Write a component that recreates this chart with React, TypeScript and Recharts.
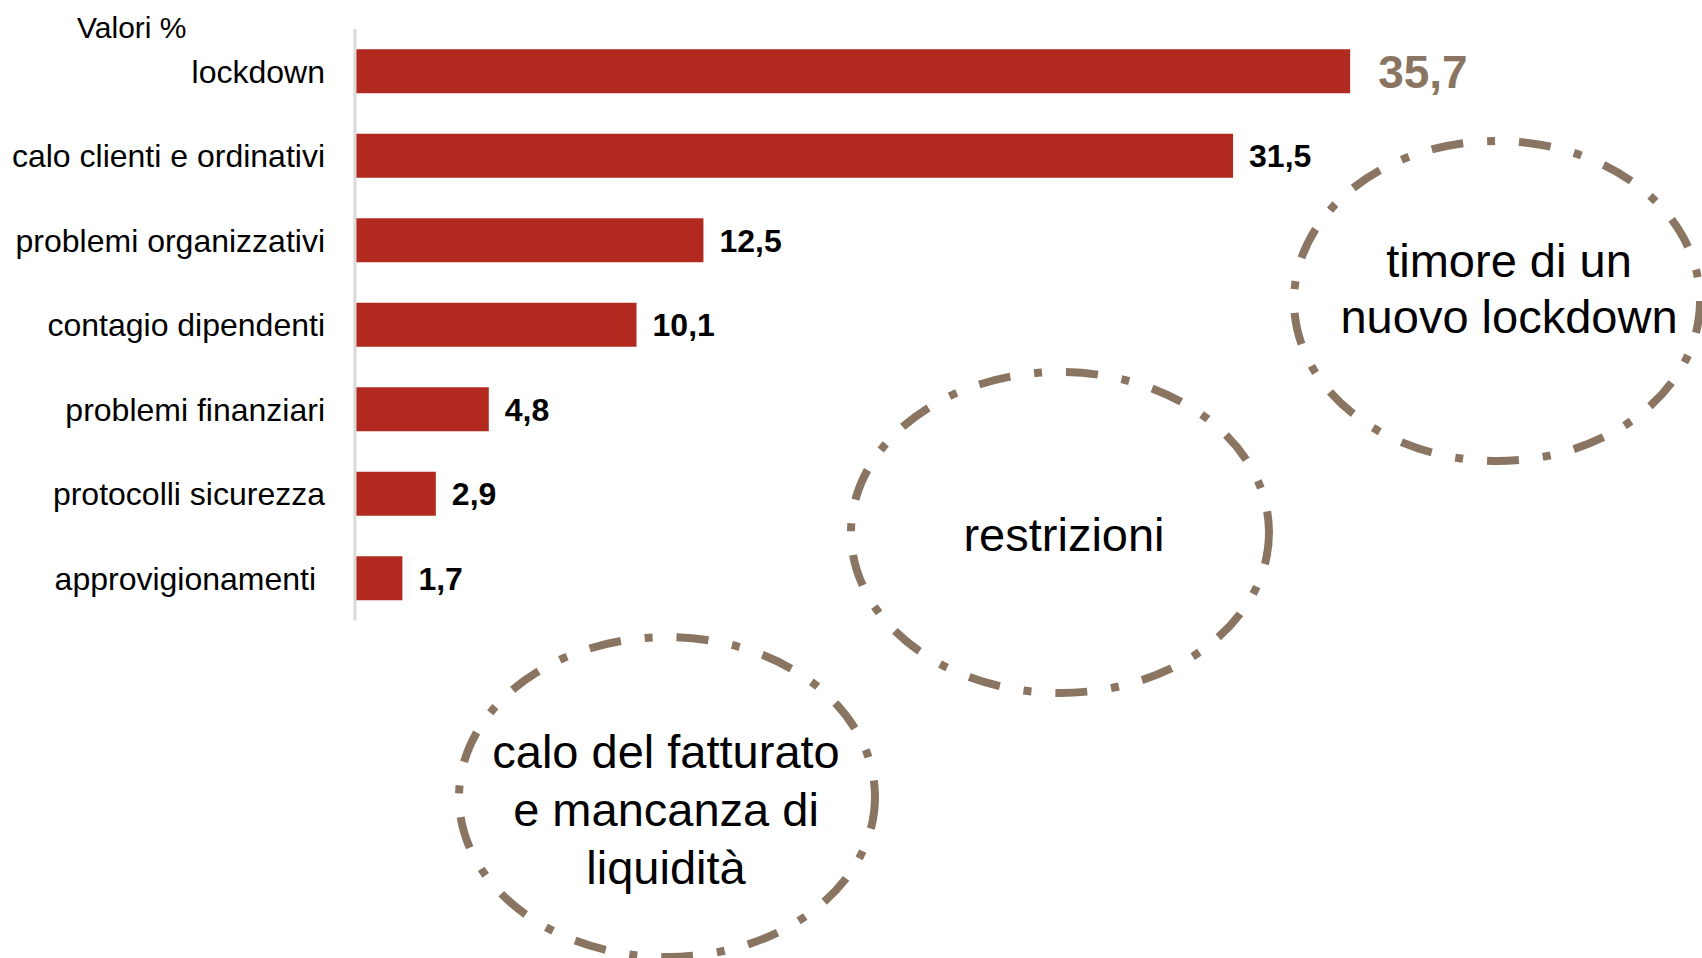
import React from 'react';
import { BarChart, Bar, XAxis, YAxis, LabelList } from 'recharts';

const categories = [
  'lockdown',
  'calo clienti e ordinativi',
  'problemi organizzativi',
  'contagio dipendenti',
  'problemi finanziari',
  'protocolli sicurezza',
  'approvigionamenti ',
];
const values = [35.7, 31.5, 12.5, 10.1, 4.8, 2.9, 1.7];
const unitLabel = 'Valori %';
const bubbleTexts = [
  ['timore di un', 'nuovo lockdown'],
  ['restrizioni'],
  ['calo del fatturato', 'e mancanza di', 'liquidità'],
];

const data = categories.map((c, i) => ({ name: c, value: values[i] }));

const FONT = '"Liberation Sans", Arial, sans-serif';
const BAR = '#B1291F';
const BROWN = '#8A7562';

const fmt = (v: number) => v.toFixed(1).replace('.', ',');

const Tick = (props: any) => {
  const { x, y, payload } = props;
  return (
    <text
      x={x}
      y={y}
      dy="0.355em"
      textAnchor="end"
      fontFamily={FONT}
      fontSize={32}
      fill="#000"
      xmlSpace="preserve"
      style={{ whiteSpace: 'pre' }}
    >
      {payload.value}
    </text>
  );
};

const ValueLabel = (props: any) => {
  const { x, y, width, height, value, index } = props;
  const first = index === 0;
  const off = first ? 28 : 16;
  return (
    <text
      x={Number(x) + Number(width) + off}
      y={Number(y) + Number(height) / 2}
      dy="0.355em"
      textAnchor="start"
      fontFamily={FONT}
      fontWeight="bold"
      fontSize={first ? 46 : 32}
      fill={first ? BROWN : '#000'}
    >
      {fmt(Number(value))}
    </text>
  );
};

const bubbles = [
  { cx: 1497, cy: 301, rx: 203, ry: 160, tx: 1509, ty: 277, lh: 56 },
  { cx: 1060, cy: 532.5, rx: 209, ry: 160.5, tx: 1064, ty: 551, lh: 56 },
  { cx: 667, cy: 797, rx: 208, ry: 160, tx: 666, ty: 768, lh: 58 },
];

export default function App() {
  return (
    <div style={{ position: 'absolute', left: 0, top: 0, width: 1702, height: 958, background: '#fff' }}>
      <BarChart
        width={1702}
        height={958}
        data={data}
        layout="vertical"
        margin={{ top: 29, right: 232, bottom: 337.5, left: 0 }}
        barCategoryGap="24%"
      >
        <XAxis type="number" domain={[0, 40]} hide />
        <YAxis
          type="category"
          dataKey="name"
          width={355}
          tickSize={0}
          tickMargin={30}
          tickLine={false}
          axisLine={{ stroke: '#D9D9D9', strokeWidth: 3 }}
          tick={<Tick />}
          interval={0}
        />
        <Bar dataKey="value" fill={BAR} isAnimationActive={false}>
          <LabelList dataKey="value" content={<ValueLabel />} />
        </Bar>
      </BarChart>
      <svg
        width={1702}
        height={958}
        style={{ position: 'absolute', left: 0, top: 0, pointerEvents: 'none' }}
      >
        <text x={77} y={38} fontFamily={FONT} fontSize={30} fill="#000">
          {unitLabel}
        </text>
        {bubbles.map((b, i) => (
          <g key={i}>
            <ellipse
              cx={b.cx}
              cy={b.cy}
              rx={b.rx}
              ry={b.ry}
              fill="none"
              stroke={BROWN}
              strokeWidth={8}
              strokeDasharray="32 24 8 24"
            />
            {bubbleTexts[i].map((t, j) => (
              <text
                key={j}
                x={b.tx}
                y={b.ty + j * b.lh}
                textAnchor="middle"
                fontFamily={FONT}
                fontSize={47}
                fill="#000"
              >
                {t}
              </text>
            ))}
          </g>
        ))}
      </svg>
    </div>
  );
}
